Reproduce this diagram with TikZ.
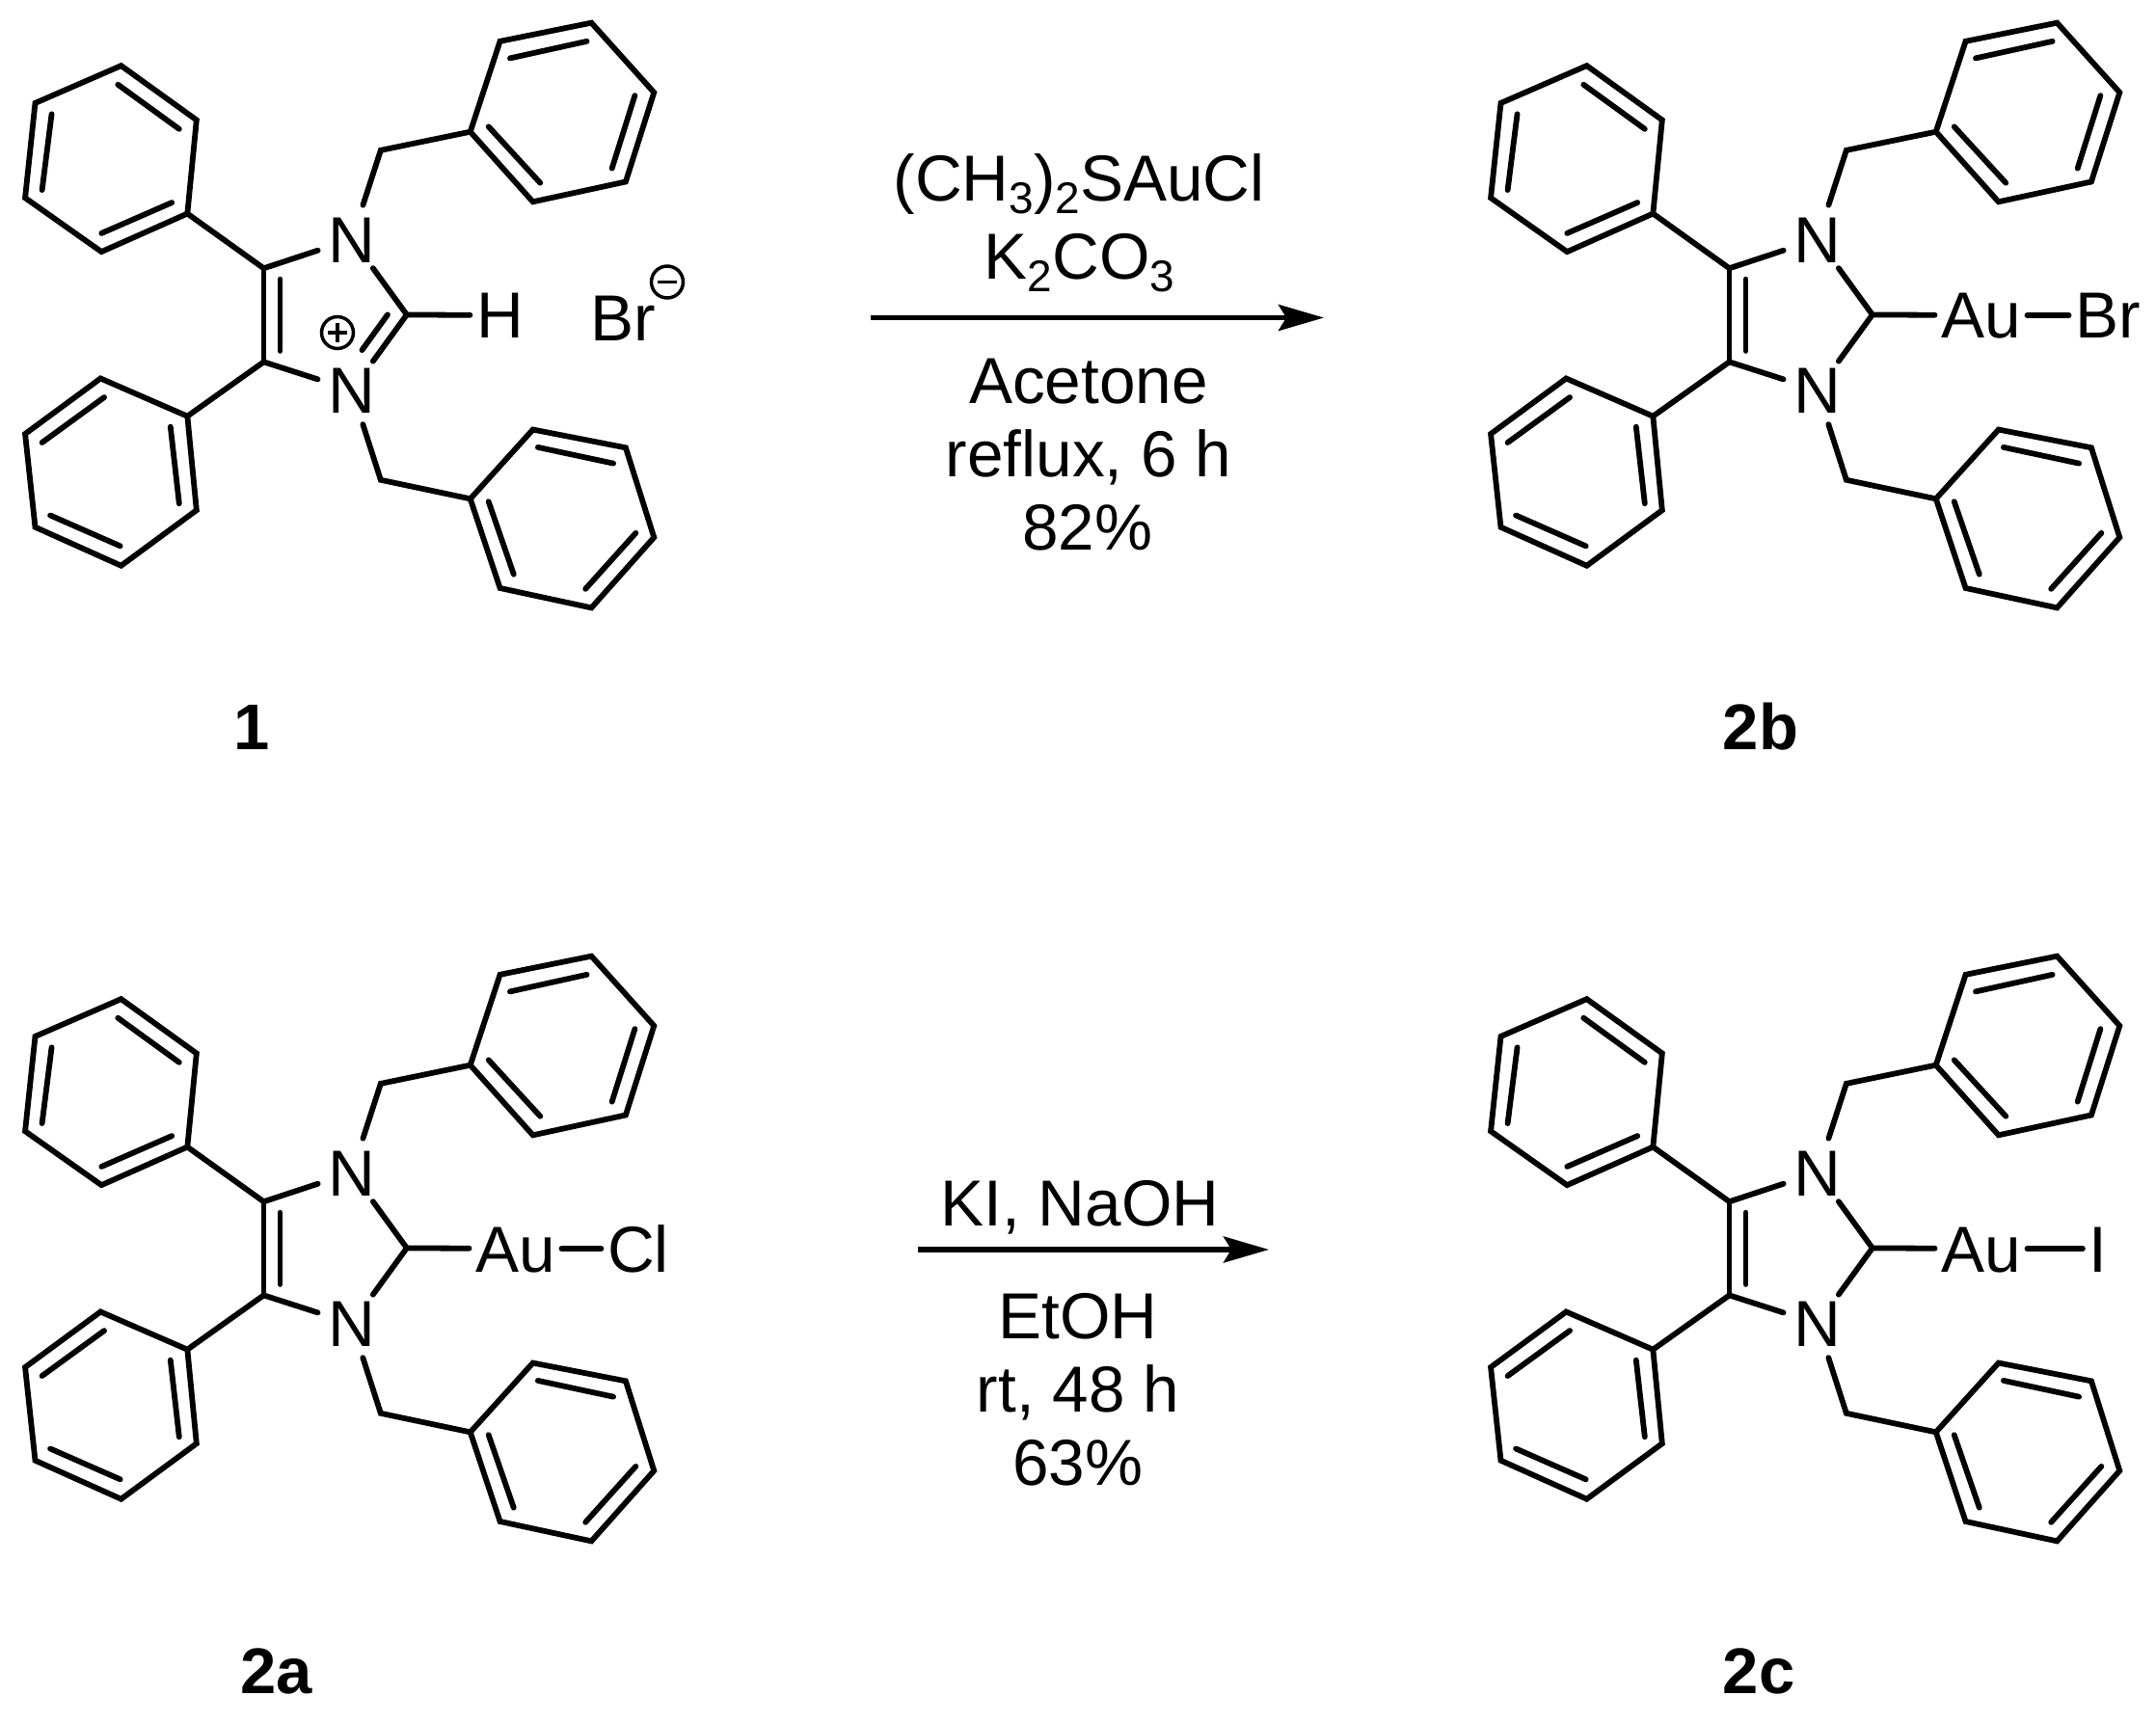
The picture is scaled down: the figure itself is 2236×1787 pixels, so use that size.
\documentclass[tikz,border=0pt]{standalone}
\usepackage{fontspec}
\setmainfont{Liberation Sans}
\usetikzlibrary{arrows.meta}
\newcommand\subdigit[1]{\raisebox{-13pt}{\fontsize{46}{46}\selectfont #1}}
\tikzset{
  bond/.style={line width=5.8pt,line cap=round,line join=miter},
  atomlabel/.style={circle,inner sep=0pt,minimum size=74pt,font=\fontsize{67.5}{67.5}\selectfont,text height=48pt,text depth=0pt},
  sidelabel/.style={rectangle,inner xsep=6.5pt,inner ysep=0pt,font=\fontsize{67.5}{67.5}\selectfont,text height=48pt,text depth=0pt},
  reagent/.style={anchor=base,inner sep=0pt,font=\fontsize{67.5}{67.5}\selectfont},
  compound/.style={anchor=base,inner sep=0pt,font=\fontsize{67}{67}\selectfont\bfseries},
  rxnarrow/.style={line width=5.5pt,-{Stealth[length=47pt,width=27pt,inset=8pt]}},
  chargering/.style={circle,draw,line width=3.5pt,inner sep=0pt,minimum size=33pt}
}
% #1 prefix, #2 x shift, #3 y shift : everything common to all four structures
\newcommand\imidazolyl[3]{%
\begin{scope}[shift={(#2pt,-#3pt)},x=.474pt,y=-.408pt]
  \node[atomlabel] (#1na) at (770,608) {N};
  \node[atomlabel] (#1nb) at (770,992) {N};
  \coordinate (#1ca) at (577,682);
  \coordinate (#1cb) at (577,920);
  \coordinate (#1cc) at (890,800);
  \coordinate (#1pa) at (410,543);
  \coordinate (#1pb) at (410,1058);
  \coordinate (#1ma) at (833,382);
  \coordinate (#1mb) at (833,1220);
  \coordinate (#1ra) at (1029,335);
  \coordinate (#1rb) at (1029,1268);
  \draw[bond] (#1ca) -- (#1na);
  \draw[bond] (#1cb) -- (#1nb);
  \draw[bond] (#1ca) -- (#1cb);
  \draw[bond] (#1na) -- (#1cc) -- (#1nb);
  \draw[bond] (#1ca) -- (#1pa);
  \draw[bond] (#1cb) -- (#1pb);
  \draw[bond] (#1na) -- (#1ma) -- (#1ra);
  \draw[bond] (#1nb) -- (#1mb) -- (#1rb);
  \draw[bond] (613,710) -- (613,892);
  % upper phenyl
  \draw[bond] (#1pa) -- (430,305) -- (265,167) -- (77,262) -- (55,503) -- (222,640) -- cycle;
  \draw[bond] (258,215) -- (392,328);
  \draw[bond] (222,593) -- (376,515);
  \draw[bond] (92,483) -- (113,290);
  % lower phenyl
  \draw[bond] (#1pb) -- (220,962) -- (55,1103) -- (77,1340) -- (265,1438) -- (430,1297) -- cycle;
  \draw[bond] (92,1125) -- (228,1010);
  \draw[bond] (110,1310) -- (263,1388);
  \draw[bond] (373,1085) -- (392,1280);
  % upper benzyl ring
  \draw[bond] (#1ra) -- (1094,105) -- (1294,58) -- (1431,235) -- (1369,462) -- (1166,513) -- cycle;
  \draw[bond] (1116,148) -- (1284,105);
  \draw[bond] (1339,428) -- (1389,243);
  \draw[bond] (1069,322) -- (1182,465);
  % lower benzyl ring
  \draw[bond] (#1rb) -- (1166,1092) -- (1369,1138) -- (1431,1366) -- (1294,1545) -- (1094,1495) -- cycle;
  \draw[bond] (1177,1137) -- (1342,1178);
  \draw[bond] (1281,1497) -- (1391,1355);
  \draw[bond] (1069,1275) -- (1124,1460);
\end{scope}}
% #1 prefix, #2 x shift, #3 y shift, #4 halogen, #5 halogen centre x
\newcommand\aubranch[5]{%
\begin{scope}[shift={(#2pt,-#3pt)},x=1pt,y=-1pt]
  \node[sidelabel] (#1au) at (534.5,327) {Au};
  \node[sidelabel] (#1hal) at (#5,327) {#4};
  \draw[bond] (#1cc) -- (#1au);
  \draw[bond] (#1au) -- (#1hal);
\end{scope}}
\begin{document}
\begin{tikzpicture}[x=1pt,y=-1pt]
  \path[use as bounding box,fill=white] (0,0) rectangle (2236,1787);
  % compound 1
  \imidazolyl{a}{0}{0}
  \node[sidelabel] (ah) at (518.5,327) {H};
  \node[sidelabel] (abr) at (646,329) {Br};
  \node[chargering] (aminus) at (692,292.5) {};
  \node[chargering] (aplus) at (350,345) {};
  \begin{scope}[x=.474pt,y=-.408pt]
    \coordinate (ainner) at (848,800);
    \coordinate (aouter) at (792,890);
  \end{scope}
  \draw[bond] (acc) -- (ah);
  \draw[bond] (ainner) -- (aouter);
  \draw[line width=3.5pt] ([xshift=-10pt]aminus.center) -- ([xshift=10pt]aminus.center);
  \draw[line width=3.5pt] ([xshift=-10pt]aplus.center) -- ([xshift=10pt]aplus.center);
  \draw[line width=3.5pt] ([yshift=-10pt]aplus.center) -- ([yshift=10pt]aplus.center);
  % structures 2b, 2a, 2c
  \imidazolyl{b}{1520}{0}
  \aubranch{b}{1520}{0}{Br}{666}
  \imidazolyl{c}{0}{968}
  \aubranch{c}{0}{968}{Cl}{662}
  \imidazolyl{d}{1520}{968}
  \aubranch{d}{1520}{968}{I}{656}
  % first reaction
  \coordinate (ar1s) at (903,329.5);
  \coordinate (ar1e) at (1373,329.5);
  \draw[rxnarrow] (ar1s) -- (ar1e);
  \node[reagent] (t1) at (1119,209) {(CH\subdigit{3})\subdigit{2}SAuCl};
  \node[reagent] (t2) at (1119.5,290) {K\subdigit{2}CO\subdigit{3}};
  \node[reagent] (t3) at (1129,418) {Acetone};
  \node[reagent] (t4) at (1129,494) {reflux, 6 h};
  \node[reagent] (t5) at (1128,570) {82\%};
  % second reaction
  \coordinate (ar2s) at (952,1296);
  \coordinate (ar2e) at (1316,1296);
  \draw[rxnarrow] (ar2s) -- (ar2e);
  \node[reagent] (u1) at (1120,1271) {KI, NaOH};
  \node[reagent] (u2) at (1118,1388) {EtOH};
  \node[reagent] (u3) at (1118,1464) {rt, 48 h};
  \node[reagent] (u4) at (1118,1540) {63\%};
  % compound numbers
  \node[compound] (n1) at (261,777) {1};
  \node[compound] (n2b) at (1826,777) {2b};
  \node[compound] (n2a) at (287,1756) {2a};
  \node[compound] (n2c) at (1824,1756) {2c};
\end{tikzpicture}
\end{document}
